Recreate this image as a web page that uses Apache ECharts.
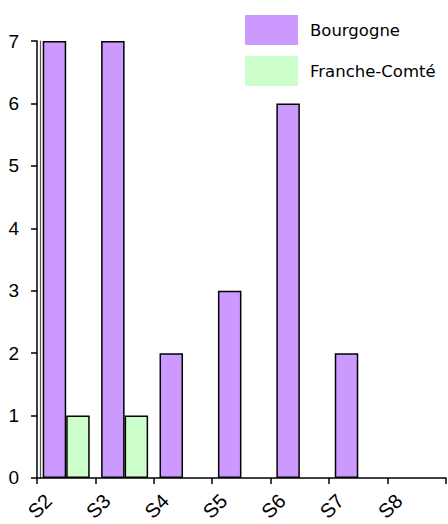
<!DOCTYPE html>
<html>
<head>
<meta charset="utf-8">
<style>html,body{margin:0;padding:0;background:#fff;}#c{width:448px;height:524px;}</style>
<script src="https://cdn.jsdelivr.net/npm/echarts@6/dist/echarts.min.js"></script>
</head>
<body>
<div id="c"></div>
<script>
var categories = ['S2', 'S3', 'S4', 'S5', 'S6', 'S7', 'S8'];
var tickLabels = ['S2', 'S3', 'S4', 'S5', 'S6', 'S7', 'S8', ''];
var bourgogne = [7, 7, 2, 3, 6, 2, 0];
var francheComte = [1, 1, 0, 0, 0, 0, 0];
var yTicks = [0, 1, 2, 3, 4, 5, 6, 7];

function hideZero(arr) { return arr.map(function (v) { return v === 0 ? '-' : v; }); }
var FONT = 'Liberation Sans';

var chart = echarts.init(document.getElementById('c'), null, {renderer: 'svg'});
chart.setOption({
  animation: false,
  backgroundColor: '#fff',
  textStyle: {fontFamily: FONT},
  grid: {left: 37, right: 0, top: 41, bottom: 43, containLabel: false},
  legend: {
    orient: 'vertical', left: 240, top: 10,
    itemWidth: 53, itemHeight: 30, itemGap: 11,
    icon: 'rect',
    textStyle: {fontFamily: 'DejaVu Sans', fontSize: 16.5, color: '#000', padding: [0, 0, 0, 7]},
    itemStyle: {borderWidth: 0},
    data: ['Bourgogne', 'Franche-Comté']
  },
  xAxis: [{
    type: 'category', data: categories, boundaryGap: true,
    axisLine: {lineStyle: {color: '#000', width: 1.5}},
    axisTick: {show: true, length: 6, lineStyle: {color: '#000', width: 1.5}},
    axisLabel: {show: false}
  }, {
    type: 'category', data: tickLabels, boundaryGap: false, position: 'bottom',
    axisLine: {show: false}, axisTick: {show: false},
    axisLabel: {show: true, interval: 0, rotate: 45, align: 'center', verticalAlign: 'middle', margin: 31,
      fontFamily: FONT, fontSize: 20, color: '#000', padding: [0, 0, 0, 8]}
  }],
  yAxis: [{
    type: 'value', min: 0, max: 7, interval: 1,
    splitLine: {show: false},
    axisLine: {show: true, lineStyle: {color: '#000', width: 1.5}},
    axisTick: {show: true, length: 6, lineStyle: {color: '#000', width: 1.5}},
    axisLabel: {fontFamily: FONT, fontSize: 19, color: '#000', margin: 18,
      formatter: function (v) { return yTicks.indexOf(v) >= 0 ? String(v) : ''; }}
  }, {
    type: 'value', min: 0, max: 7, interval: 1, position: 'left', offset: -3,
    splitLine: {show: false},
    axisLine: {show: true, lineStyle: {color: '#555', width: 1.2}},
    axisTick: {show: false}, axisLabel: {show: false}
  }],
  series: [{
    name: 'Bourgogne', type: 'bar', data: hideZero(bourgogne), barWidth: 23.5, barGap: '0%',
    itemStyle: {color: '#CC99FF', borderColor: '#000', borderWidth: 1.5}
  }, {
    name: 'Franche-Comté', type: 'bar', data: hideZero(francheComte), barWidth: 23.5, barGap: '0%',
    itemStyle: {color: '#CCFFCC', borderColor: '#000', borderWidth: 1.5}
  }]
});
</script>
</body>
</html>
